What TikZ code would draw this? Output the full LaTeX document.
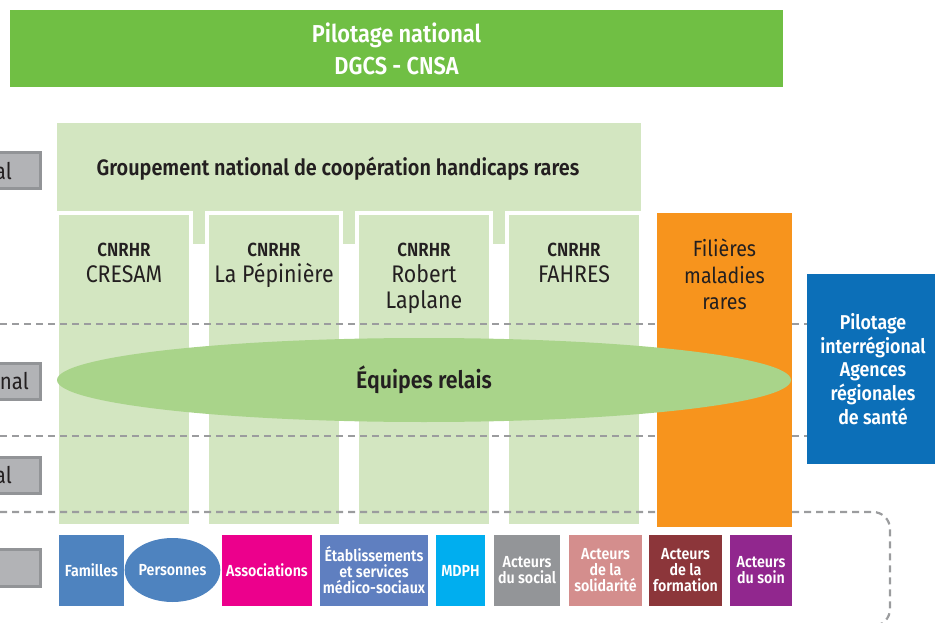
\documentclass[tikz,border=0pt]{standalone}
\usepackage{fontspec}
\setmainfont{Fira Sans}[FakeStretch=0.89,BoldFont={Fira Sans SemiBold}]
\usetikzlibrary{shapes.geometric}
\definecolor{vertfonce}{HTML}{70BF44}
\definecolor{vertclair}{HTML}{D3E6C1}
\definecolor{vertrelais}{HTML}{A9D48A}
\definecolor{filiere}{HTML}{F7941D}
\definecolor{ars}{HTML}{0C6FB8}
\definecolor{grisfond}{HTML}{B2B3B6}
\definecolor{grisbord}{HTML}{929497}
\definecolor{gristrait}{HTML}{9B9C9E}
\definecolor{texte}{HTML}{231F20}
\definecolor{famille}{HTML}{4E83BF}
\definecolor{asso}{HTML}{EC008C}
\definecolor{etab}{HTML}{5F7FC0}
\definecolor{mdph}{HTML}{00AEEF}
\definecolor{social}{HTML}{939598}
\definecolor{solidarite}{HTML}{D48E8D}
\definecolor{formation}{HTML}{8C363A}
\definecolor{soin}{HTML}{91278E}
\tikzset{
	pointille/.style={draw=gristrait, line width=2.2pt, dash pattern=on 7pt off 5pt},
	colonne/.style={fill=vertclair, draw=white, line width=4pt},
	cote/.style={fill=grisfond, draw=grisbord, line width=3pt},
	cotetexte/.style={anchor=base east, inner sep=0pt, text=texte, font=\fontsize{23}{26}\selectfont},
	boite/.style={fill=#1, text=white, font=\bfseries\fontsize{16}{16}\selectfont, align=center, minimum height=71pt, inner sep=0pt}
}
\newcommand{\cnrhr}[3]
{
	\draw[colonne] (#2,213) rectangle (#2+134,526);
	\node[anchor=north, inner sep=0pt, align=center, text=texte, font=\fontsize{24}{26}\selectfont] (#1) at (#2+67,243) {{\bfseries\fontsize{19}{26}\selectfont CNRHR}\\#3};
}
\newcommand{\acteur}[5]
{
	\node[boite=#2, minimum width=#4pt] (#1) at (#3,570.5) {#5};
}

\begin{document}
\begin{tikzpicture}[x=1pt,y=-1pt]
	\path[use as bounding box] (0,0) rectangle (935,623);
	\node[fill=vertfonce, minimum width=773pt, minimum height=77pt, inner sep=0pt, align=center, text=white, font=\bfseries\fontsize{24.5}{32}\selectfont] (pilotage) at (396.5,49) {Pilotage national\\DGCS - CNSA};
	\draw[cote] (-10,152.5) rectangle (40.5,188.5);
	\draw[cote] (-10,363.5) rectangle (40.5,399.5);
	\draw[cote] (-10,457.5) rectangle (40.5,493.5);
	\draw[cote] (-10,549.5) rectangle (40.5,586.5);
	\node[cotetexte] (national) at (12,180) {al};
	\node[cotetexte] (interregional) at (29,389) {onal};
	\node[cotetexte] (regional) at (12,483) {al};
	\fill[vertclair] (57,123) rectangle (641,244);
	\node[anchor=base, text=texte, font=\bfseries\fontsize{22.3}{26}\selectfont] (groupement) at (338,176) {Groupement national de coopération handicaps rares};
	\cnrhr{cresam}{57}{CRESAM}
	\cnrhr{pepiniere}{207}{La Pépinière}
	\cnrhr{laplane}{357}{Robert\\Laplane}
	\cnrhr{fahres}{507}{FAHRES}
	\draw[pointille] (0,324) -- (807,324);
	\draw[pointille] (0,436) -- (807,436);
	\draw[pointille, rounded corners=17pt] (0,512) -- (890,512) -- (890,626) -- (0,626);
	\fill[filiere] (657,213) rectangle (792,527);
	\node[anchor=north, inner sep=0pt, align=center, text=texte, font=\fontsize{22}{26.5}\selectfont] (filieres) at (724.5,239) {Filières\\maladies\\rares};
	\node[fill=ars, minimum width=132pt, minimum height=190pt, inner sep=0pt, align=center, text=white, font=\bfseries\fontsize{20}{23.75}\selectfont] (ars) at (873,369) {Pilotage\\interrégional\\Agences\\régionales\\de santé};
	\node[ellipse, fill=vertrelais, minimum width=734pt, minimum height=84pt, inner sep=0pt, text=texte, font=\bfseries\fontsize{24}{26}\selectfont] (relais) at (424,380) {Équipes relais};
	\acteur{familles}{famille}{91.5}{65}{Familles}
	\node[ellipse, boite=famille, minimum width=85pt, minimum height=64pt] (personnes) at (172.5,570) {Personnes};
	\acteur{associations}{asso}{267}{90}{Associations}
	\acteur{etablissements}{etab}{374}{108}{Établissements\\et services\\médico-sociaux}
	\acteur{mdphbox}{mdph}{460.5}{49}{MDPH}
	\acteur{acteursocial}{social}{527}{66}{Acteurs\\du social}
	\acteur{acteursolidarite}{solidarite}{605.5}{73}{Acteurs\\de la\\solidarité}
	\acteur{acteurformation}{formation}{685.5}{73}{Acteurs\\de la\\formation}
	\acteur{acteursoin}{soin}{761}{62}{Acteurs\\du soin}
\end{tikzpicture}
\end{document}
